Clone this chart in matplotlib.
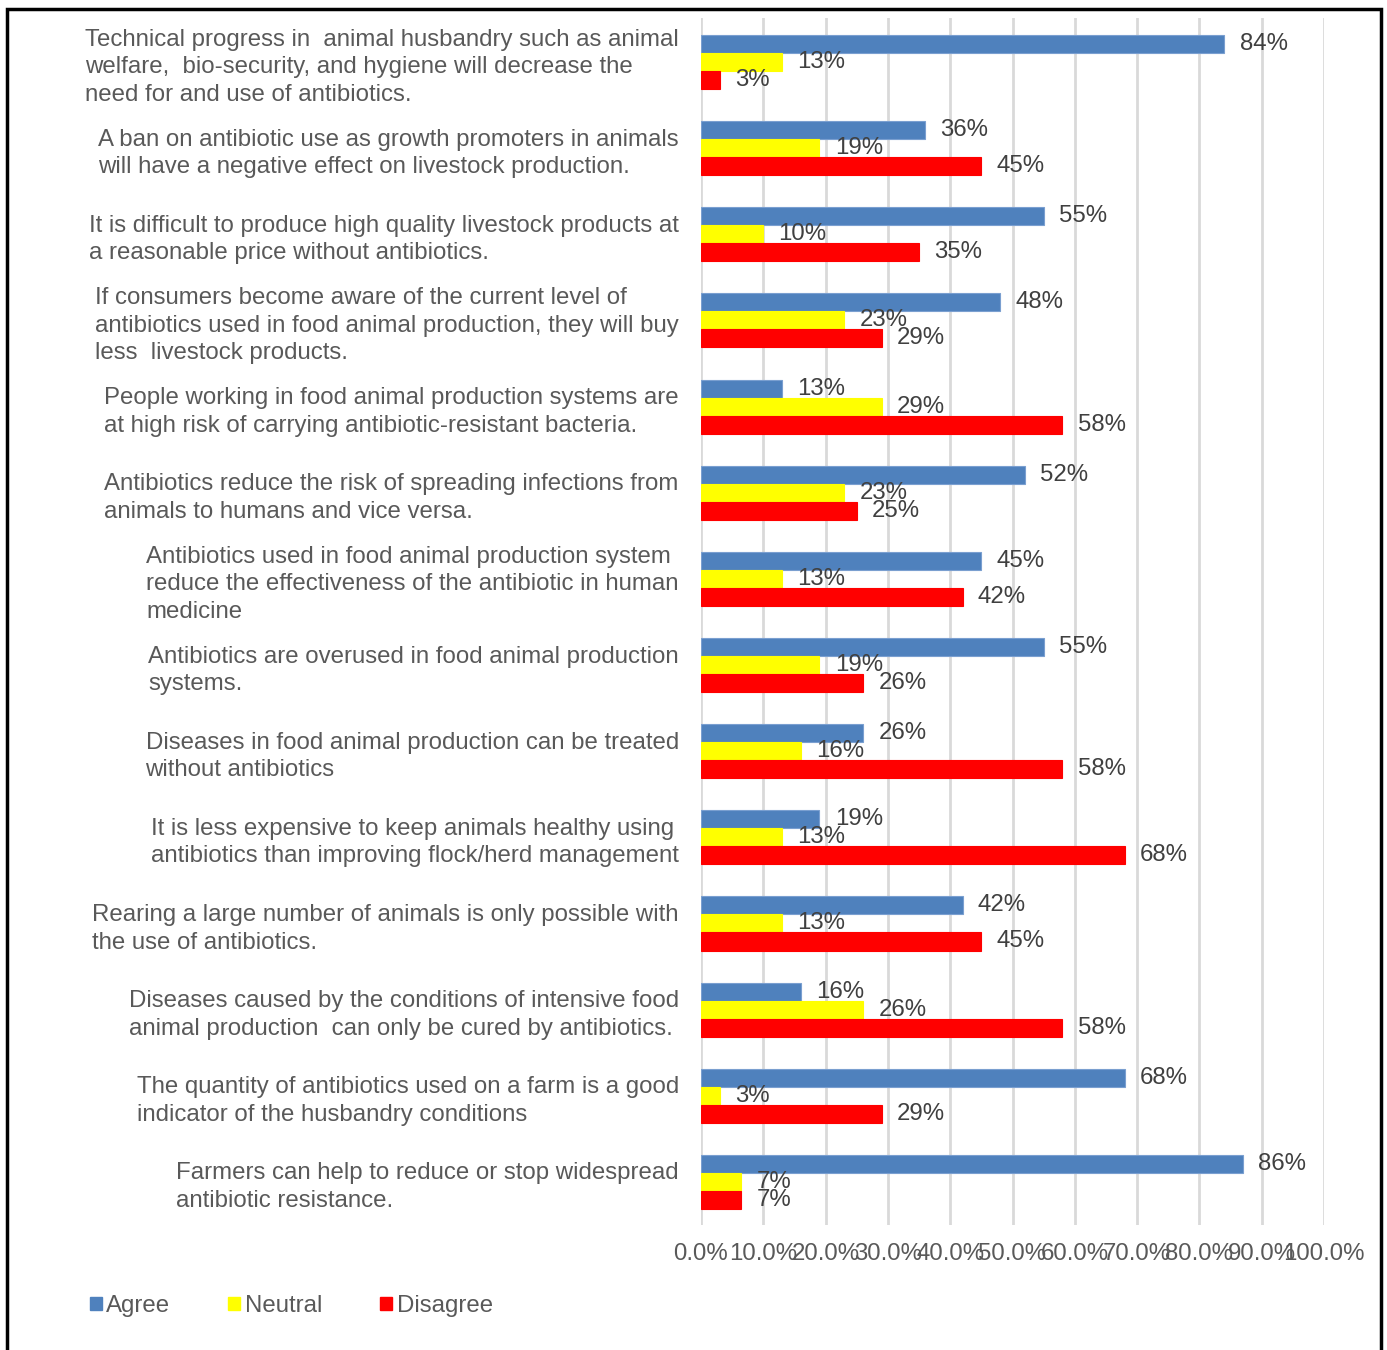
import numpy as np
import matplotlib.pyplot as plt
from matplotlib.patches import Rectangle, Patch

plt.rcParams['font.family'] = ['Liberation Sans', 'DejaVu Sans']

statements = [
    "Technical progress in  animal husbandry such as animal\nwelfare,  bio-security, and hygiene will decrease the\nneed for and use of antibiotics.",
    "A ban on antibiotic use as growth promoters in animals\nwill have a negative effect on livestock production.",
    "It is difficult to produce high quality livestock products at\na reasonable price without antibiotics.",
    "If consumers become aware of the current level of\nantibiotics used in food animal production, they will buy\nless  livestock products.",
    "People working in food animal production systems are\nat high risk of carrying antibiotic-resistant bacteria.",
    "Antibiotics reduce the risk of spreading infections from\nanimals to humans and vice versa.",
    "Antibiotics used in food animal production system\nreduce the effectiveness of the antibiotic in human\nmedicine",
    "Antibiotics are overused in food animal production\nsystems.",
    "Diseases in food animal production can be treated\nwithout antibiotics",
    "It is less expensive to keep animals healthy using\nantibiotics than improving flock/herd management",
    "Rearing a large number of animals is only possible with\nthe use of antibiotics.",
    "Diseases caused by the conditions of intensive food\nanimal production  can only be cured by antibiotics.",
    "The quantity of antibiotics used on a farm is a good\nindicator of the husbandry conditions",
    "Farmers can help to reduce or stop widespread\nantibiotic resistance.",
]

# bar lengths (%)
agree = [84, 36, 55, 48, 13, 52, 45, 55, 26, 19, 42, 16, 68, 87]
neutral = [13, 19, 10, 23, 29, 23, 13, 19, 16, 13, 13, 26, 3, 6.5]
disagree = [3, 45, 35, 29, 58, 25, 42, 26, 58, 68, 45, 58, 29, 6.5]

# data labels as printed in the chart
agree_lbl = ["84%", "36%", "55%", "48%", "13%", "52%", "45%", "55%", "26%", "19%", "42%", "16%", "68%", "86%"]
neutral_lbl = ["13%", "19%", "10%", "23%", "29%", "23%", "13%", "19%", "16%", "13%", "13%", "26%", "3%", "7%"]
disagree_lbl = ["3%", "45%", "35%", "29%", "58%", "25%", "42%", "26%", "58%", "68%", "45%", "58%", "29%", "7%"]

series = [("Agree", agree, agree_lbl, "#4f81bd"),
          ("Neutral", neutral, neutral_lbl, "#ffff00"),
          ("Disagree", disagree, disagree_lbl, "#ff0000")]

W, H = 1387, 1350
fig = plt.figure(figsize=(W / 100, H / 100), dpi=100)
ax = fig.add_axes([701 / W, 1 - 1225 / H, 623 / W, (1225 - 18) / H])

y = np.arange(len(statements))
bh = 18 / 86
fs = 17.3
for k, (name, vals, lbls, col) in enumerate(series):
    yy = y + (k - 1) * bh
    ec = "#7a9fd0" if name == "Agree" else col
    ax.barh(yy, vals, height=bh, color=col, edgecolor=ec, linewidth=0.8, label=name, zorder=3)
    for yi, v, t in zip(yy, vals, lbls):
        ax.annotate(t, (v, yi), xytext=(11, 0), textcoords="offset points",
                    va="center", ha="left", fontsize=fs, color="#404040", zorder=4)

ax.set_xlim(0, 100)
ax.set_ylim(len(statements) - 0.5, -0.51)
ax.set_xticks(np.arange(0, 101, 10))
ax.set_xticklabels([f"{v:.1f}%" for v in np.arange(0, 101, 10)])
ax.set_yticks(y)
ax.set_yticklabels(statements)
for lbl in ax.get_yticklabels():
    lbl.set_multialignment("left")
    lbl.set_linespacing(1.33)
ax.tick_params(axis="y", length=0, pad=16, labelsize=fs, labelcolor="#595959")
ax.tick_params(axis="x", length=0, pad=13, labelsize=fs, labelcolor="#595959")
ax.grid(axis="x", color="#d9d9d9", linewidth=2, zorder=0)
for s in ax.spines.values():
    s.set_visible(False)

handles = [Patch(color=c, label=n) for n, _, _, c in series]
fig.legend(handles=handles, loc="center left", bbox_to_anchor=(68 / W, 1 - 1306 / H),
           ncol=3, frameon=False, fontsize=fs, handlelength=0.5, handleheight=0.5,
           handletextpad=0.2, columnspacing=2.4, labelcolor="#595959")

fig.patches.append(Rectangle((7 / W, -0.01), (1381 - 7) / W, 1.01 - 9 / H,
                             transform=fig.transFigure, fill=False,
                             edgecolor="black", linewidth=2.5))

fig.savefig("out.png", dpi=100)
